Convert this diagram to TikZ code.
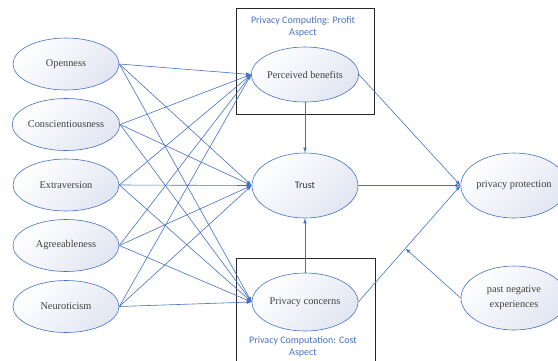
\documentclass[tikz,border=0pt]{standalone}
\usepackage{fontspec}
\setmainfont{Liberation Serif}
\newfontfamily\serf{Liberation Serif}
\newfontfamily\carl{Carlito}
\usetikzlibrary{shapes.geometric,arrows.meta,calc}
\definecolor{lblue}{HTML}{4472C4}
\definecolor{ltxt}{HTML}{404040}
\definecolor{fillc}{HTML}{E2E6F2}
\begin{document}
\begin{tikzpicture}[x=1pt,y=-1pt,
  ell/.style={ellipse, draw=lblue, line width=0.6pt, inner sep=0pt,
    minimum width=106pt, minimum height=52pt,
    top color=white, bottom color=fillc, shading angle=45,
    font=\serf\fontsize{10.3}{15}\selectfont, text=ltxt, align=center},
  arr/.style={draw=lblue, line width=0.6pt, -{Latex[length=5pt,width=3.6pt]}},
  boxline/.style={draw=black!85, line width=0.8pt},
  boxlabel/.style={font=\carl\fontsize{10}{12}\selectfont, text=lblue, align=center, inner sep=0pt}]
\useasboundingbox (0,0) rectangle (558,360);
\clip (0,0) rectangle (558,360);
% boxes
\draw[boxline] (236,8) rectangle (374,114);
\draw[boxline] (236,362) -- (236,258) -- (375,258) -- (375,362);
\node[boxlabel] (lblA) at (303,27) {Privacy Computing: Profit\\Aspect};
\node[boxlabel] (lblB) at (303,347) {Privacy Computation: Cost\\Aspect};
% left nodes
\node[ell] (O) at (66,64) {Openness};
\node[ell] (C) at (66,124.5) {Conscientiousness};
\node[ell] (E) at (66,185) {Extraversion};
\node[ell] (A) at (66,245.5) {Agreeableness};
\node[ell] (N) at (66,306.5) {Neuroticism};
% middle nodes
\node[ell, minimum height=55pt] (PB) at (305,74.5) {Perceived benefits};
\node[ell, minimum height=65pt, font=\carl\fontsize{10}{12}\selectfont, text=black!80] (T) at (305,185.5) {Trust};
\node[ell, minimum height=58pt] (PC) at (305,302) {Privacy concerns};
% right nodes
\node[ell, minimum height=65pt] (PP) at (514,185.5) {privacy protection};
\node[ell, minimum height=64pt] (PN) at (514,298) {past negative\\experiences};
% arrows from traits
\foreach \s in {O,C,E,A,N}{
  \foreach \t in {PB,T,PC}{
    \draw[arr] (\s.east) -- (\t.west);
  }
}
\draw[arr] (PB.south) -- (T.north);
\draw[arr] (PC.north) -- (T.south);
\draw[arr] (T.east) -- (PP.west);
\draw[arr] (PB.east) -- (PP.west);
\draw[arr] (PC.east) -- (PP.west);
\coordinate (m) at ($(PC.east)!0.46!(PP.west)$);
\draw[arr] (PN.west) -- (m);
\end{tikzpicture}
\end{document}
